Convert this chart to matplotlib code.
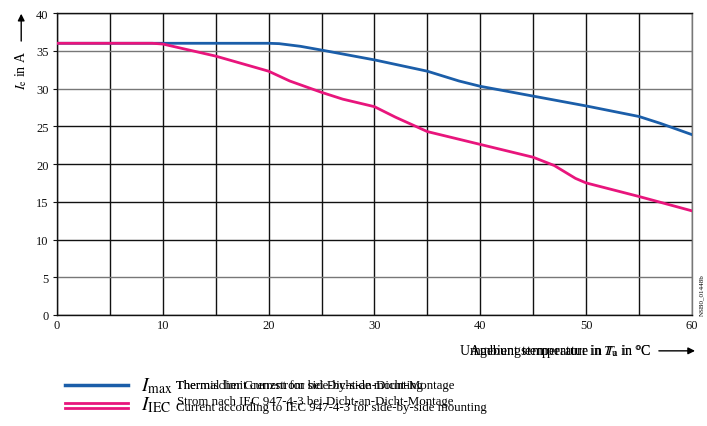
import matplotlib.pyplot as plt

plt.rcParams['font.family'] = ['Liberation Serif', 'DejaVu Serif']
plt.rcParams['mathtext.fontset'] = 'stix'

# ambient temperature in degC
x_max = [0, 20, 21, 23, 25, 30, 35, 38, 40, 45, 50, 55, 57, 60]
i_max = [36, 36, 35.95, 35.6, 35.1, 33.8, 32.3, 31.0, 30.3, 29.0, 27.7, 26.3, 25.4, 23.9]

x_iec = [0, 9, 10, 15, 20, 22, 25, 27, 30, 32, 35, 40, 45, 47, 49, 50, 55, 60]
i_iec = [36, 36, 35.9, 34.3, 32.3, 31.0, 29.5, 28.6, 27.6, 26.2, 24.3, 22.6, 20.9, 19.8, 18.1, 17.5, 15.7, 13.8]

blue = '#1b5ea9'
pink = '#e8157c'

fig = plt.figure(figsize=(7.07, 4.27), dpi=100)
ax = fig.add_axes([0.0806, 0.26, 0.898, 0.707])

ax.plot(x_max, i_max, color=blue, lw=2.0, zorder=3, solid_joinstyle='round')
ax.plot(x_iec, i_iec, color=pink, lw=2.0, zorder=3, solid_joinstyle='round')

ax.set_xlim(0, 60)
ax.set_ylim(0, 40)
ax.set_xticks(range(0, 61, 5))
ax.set_xticklabels([str(v) if v % 10 == 0 else '' for v in range(0, 61, 5)])
ax.set_yticks(range(0, 41, 5))
ax.grid(True, color='#111111', lw=1.0)
ax.set_axisbelow(True)
for i, gl in enumerate(ax.get_ygridlines()):
    if i in (1, 6, 7):
        gl.set_color('#777777')
for s in ax.spines.values():
    s.set_color('#111111')
    s.set_linewidth(1.0)
ax.spines['right'].set_color('#777777')
ax.tick_params(length=3, labelsize=9, colors='#111111', pad=3)
ax.tick_params(axis='x', length=0)

# y label with arrow
fig.text(0.030, 0.835, r'$I_{\mathrm{e}}$ in A', rotation=90, ha='center', va='center', fontsize=10)
ax.annotate('', xy=(0.030, 0.972), xytext=(0.030, 0.895), xycoords='figure fraction',
            arrowprops=dict(arrowstyle='-|>', color='black', lw=1.0, mutation_scale=10))

# x label (German and English overlaid)
fig.text(0.921, 0.176, 'Umgebungstemperatur in $T_{\\mathrm{u}}$ in °C', ha='right', va='center', fontsize=10)
fig.text(0.921, 0.176, 'Ambient temperature in $T_{\\mathrm{a}}$ in °C', ha='right', va='center', fontsize=10)
ax.annotate('', xy=(0.987, 0.176), xytext=(0.928, 0.176), xycoords='figure fraction',
            arrowprops=dict(arrowstyle='-|>', color='black', lw=1.0, mutation_scale=10))

fig.text(0.993, 0.31, 'NSB0_01448b', rotation=90, ha='center', va='center', fontsize=5)

# legend
fig.add_artist(plt.Line2D([0.092, 0.181], [0.097, 0.097], color=blue, lw=2.5))
fig.add_artist(plt.Line2D([0.092, 0.181], [0.054, 0.054], color=pink, lw=2.0))
fig.add_artist(plt.Line2D([0.092, 0.181], [0.042, 0.042], color=pink, lw=2.0))

fig.text(0.199, 0.095, r'$I_{\mathrm{max}}$', ha='left', va='center', fontsize=14)
fig.text(0.249, 0.096, 'Thermischer Grenzstrom bei Dicht-an-Dicht-Montage', ha='left', va='center', fontsize=9.3)
fig.text(0.249, 0.096, 'Thermal limit current for side-by-side mounting', ha='left', va='center', fontsize=9.3)
fig.text(0.199, 0.050, r'$I_{\mathrm{IEC}}$', ha='left', va='center', fontsize=14)
fig.text(0.251, 0.058, 'Strom nach IEC 947-4-3 bei Dicht-an-Dicht-Montage', ha='left', va='center', fontsize=9.3)
fig.text(0.249, 0.044, 'Current according to IEC 947-4-3 for side-by-side mounting', ha='left', va='center', fontsize=9.3)

fig.savefig('out.png', dpi=100)
